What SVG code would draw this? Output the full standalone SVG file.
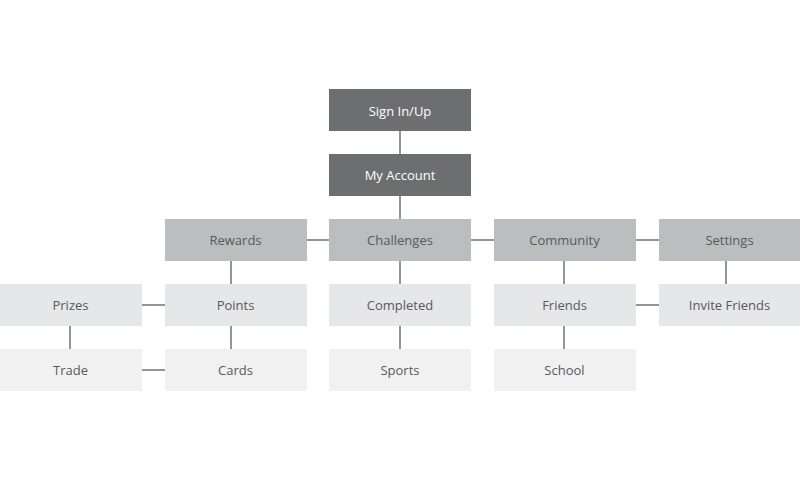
<svg xmlns="http://www.w3.org/2000/svg" width="800" height="500" viewBox="0 0 800 500">
<style>
.dark{fill:#6d6e70}
.mid{fill:#bcbdbf}
.l1{fill:#e6e7e8}
.l2{fill:#f1f1f2}
text{font-family:"Open Sans","Noto Sans","Liberation Sans",sans-serif;font-size:13px;text-anchor:middle;dominant-baseline:central;fill:#58595b}
.dark+text{fill:#ffffff}
#connectors line{stroke:#939598;stroke-width:2}
</style>
<rect width="800" height="500" fill="#ffffff"/>
<g id="connectors">
<line x1="400" y1="131" x2="400" y2="154"/>
<line x1="400" y1="196" x2="400" y2="219"/>
<line x1="307" y1="240" x2="329" y2="240"/>
<line x1="471" y1="240" x2="494" y2="240"/>
<line x1="636" y1="240" x2="659" y2="240"/>
<line x1="231" y1="261" x2="231" y2="284"/>
<line x1="231" y1="326" x2="231" y2="349"/>
<line x1="142" y1="305" x2="165" y2="305"/>
<line x1="70" y1="326" x2="70" y2="349"/>
<line x1="142" y1="370" x2="165" y2="370"/>
<line x1="400" y1="261" x2="400" y2="284"/>
<line x1="400" y1="326" x2="400" y2="349"/>
<line x1="564" y1="261" x2="564" y2="284"/>
<line x1="564" y1="326" x2="564" y2="349"/>
<line x1="726" y1="261" x2="726" y2="284"/>
<line x1="636" y1="305" x2="659" y2="305"/>
</g>
<g id="signin"><rect class="dark" x="329" y="89" width="142" height="42"/><text x="400" y="110.5">Sign In/Up</text></g>
<g id="myaccount"><rect class="dark" x="329" y="154" width="142" height="42"/><text x="400" y="175">My Account</text></g>
<g id="rewards"><rect class="mid" x="165" y="219" width="142" height="42"/><text x="235.5" y="240">Rewards</text></g>
<g id="challenges"><rect class="mid" x="329" y="219" width="142" height="42"/><text x="400" y="240">Challenges</text></g>
<g id="community"><rect class="mid" x="494" y="219" width="142" height="42"/><text x="564.5" y="240">Community</text></g>
<g id="settings"><rect class="mid" x="659" y="219" width="141" height="42"/><text x="729.5" y="240">Settings</text></g>
<g id="prizes"><rect class="l1" x="0" y="284" width="142" height="42"/><text x="70.5" y="305">Prizes</text></g>
<g id="points"><rect class="l1" x="165" y="284" width="142" height="42"/><text x="235.5" y="305">Points</text></g>
<g id="completed"><rect class="l1" x="329" y="284" width="142" height="42"/><text x="400" y="305">Completed</text></g>
<g id="friends"><rect class="l1" x="494" y="284" width="142" height="42"/><text x="564.5" y="305">Friends</text></g>
<g id="invite"><rect class="l1" x="659" y="284" width="141" height="42"/><text x="729.5" y="305">Invite Friends</text></g>
<g id="trade"><rect class="l2" x="0" y="349" width="142" height="42"/><text x="70.5" y="370">Trade</text></g>
<g id="cards"><rect class="l2" x="165" y="349" width="142" height="42"/><text x="235.5" y="370">Cards</text></g>
<g id="sports"><rect class="l2" x="329" y="349" width="142" height="42"/><text x="400" y="370">Sports</text></g>
<g id="school"><rect class="l2" x="494" y="349" width="142" height="42"/><text x="564.5" y="370">School</text></g>
</svg>
